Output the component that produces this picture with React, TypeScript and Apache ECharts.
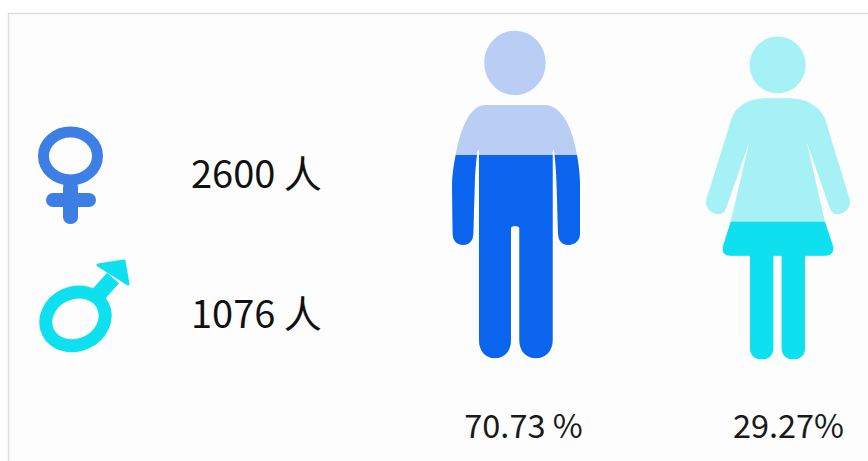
import React, { useEffect, useRef } from "react";
import * as echarts from "echarts";

const shareLabels = ["70.73 %", "29.27%"];
const shareValues = [70.73, 29.27];
const axisMaxima = [114, 68.6];
const countLabels = ["2600 人", "1076 人"];
const darkColors = ["#0a64ee", "#0fe0ef"];
const lightColors = ["#b9cdf5", "#a6f1f6"];

const manPath =
  "path://M255 62C306 62 347 105 347 158C347 212 306 255 255 255C204 255 163 212 163 158C163 105 204 62 255 62Z" +
  "M165 285L345 285C390 285 425 345 438 420C446 460 450 495 450 530L450 670C450 692 435 705 415 705C395 705 385 692 384 670L380 530C379 490 376 450 372 420L368 420L368 990C368 1025 345 1045 318 1045C290 1045 268 1025 268 990L268 655C268 650 262 648 255 648C248 648 243 650 243 655L243 990C243 1025 222 1045 195 1045C168 1045 147 1025 147 990L147 420L143 420C138 450 135 490 134 530L130 670C130 692 118 705 100 705C80 705 68 692 68 670L66 530C66 495 72 460 80 420C95 345 125 285 165 285Z";

const womanPath =
  "path://M263 80C310 80 347 118 347 165C347 212 310 250 263 250C216 250 179 212 179 165C179 118 216 80 263 80Z" +
  "M230 265L296 265C346 265 385 285 405 325L478 565C486 590 470 606 450 612C432 616 424 606 418 590L350 395L405 635L428 705C434 725 425 737 405 737L345 737L345 1015C345 1035 330 1048 310 1048C290 1048 275 1035 275 1015L275 737L250 737L250 1015C250 1035 235 1048 215 1048C195 1048 180 1035 180 1015L180 737L122 737C102 737 94 725 100 705L122 635L178 395L110 590C104 606 96 616 78 612C58 606 42 590 50 565L125 325C140 285 180 265 230 265Z";

const paths = [manPath, womanPath];
const gridBoxes = [
  { left: 452, top: 30.7, width: 128, height: 327.6 },
  { left: 706, top: 36.7, width: 144, height: 322.6 },
];
const labelPadding = [[0, 0, 0, 15], [0, 0, 0, 21]];

const textFont = '"Noto Sans CJK SC", "Noto Sans", sans-serif';

export default function App() {
  const ref = useRef<HTMLDivElement>(null);

  useEffect(() => {
    const chart = echarts.init(ref.current!, undefined, { renderer: "svg" });
    const series: any[] = [];
    shareValues.forEach((value, i) => {
      series.push({
        type: "pictorialBar",
        xAxisIndex: i,
        yAxisIndex: i,
        symbol: paths[i],
        symbolSize: ["100%", "100%"],
        symbolBoundingData: axisMaxima[i],
        symbolPosition: "start",
        barWidth: "100%",
        data: [axisMaxima[i]],
        itemStyle: { color: lightColors[i] },
        z: 2,
      });
      series.push({
        type: "pictorialBar",
        xAxisIndex: i,
        yAxisIndex: i,
        symbol: paths[i],
        symbolSize: ["100%", "100%"],
        symbolBoundingData: axisMaxima[i],
        symbolClip: true,
        symbolPosition: "start",
        barWidth: "100%",
        data: [value],
        itemStyle: { color: darkColors[i] },
        z: 3,
      });
    });

    chart.setOption({
      animation: false,
      backgroundColor: "#ffffff",
      grid: gridBoxes,
      xAxis: shareLabels.map((label, i) => ({
        type: "category",
        gridIndex: i,
        data: [label],
        axisLine: { show: false },
        axisTick: { show: false },
        axisLabel: {
          show: true,
          color: "#1a1a1a",
          fontSize: 32.5,
          fontFamily: textFont,
          margin: i === 0 ? 49 : 48,
          padding: labelPadding[i],
        },
      })),
      yAxis: axisMaxima.map((max, i) => ({
        type: "value",
        gridIndex: i,
        min: 0,
        max,
        show: false,
      })),
      series,
      graphic: [
        {
          type: "rect",
          z: -10,
          silent: true,
          shape: { x: 8.5, y: 13.5, width: 880, height: 470 },
          style: { fill: "#fdfdfd", stroke: "#dedede", lineWidth: 1.5 },
        },
        // female symbol
        {
          type: "ellipse",
          shape: { cx: 70.5, cy: 156, rx: 27, ry: 24 },
          style: { fill: "none", stroke: "#3d7fe4", lineWidth: 11 },
        },
        {
          type: "rect",
          shape: { x: 63, y: 180, width: 15, height: 44, r: 7 },
          style: { fill: "#3d7fe4" },
        },
        {
          type: "rect",
          shape: { x: 46, y: 193, width: 50, height: 14, r: 7 },
          style: { fill: "#3d7fe4" },
        },
        // male symbol
        {
          type: "ellipse",
          shape: { cx: 75.5, cy: 319, rx: 30.5, ry: 26 },
          rotation: 0.45,
          originX: 75.5,
          originY: 319,
          style: { fill: "none", stroke: "#0fe0ef", lineWidth: 13 },
        },
        {
          type: "line",
          shape: { x1: 97, y1: 296, x2: 113, y2: 278 },
          style: { stroke: "#0fe0ef", lineWidth: 16 },
        },
        {
          type: "polygon",
          shape: { points: [[98, 265], [124, 261], [128, 284]] },
          style: { fill: "#0fe0ef", stroke: "#0fe0ef", lineWidth: 3, lineJoin: "round" },
        },
        {
          type: "text",
          x: 191,
          y: 171,
          style: {
            text: countLabels[0],
            font: `38px ${textFont}`,
            fill: "#111111",
            verticalAlign: "middle",
          },
        },
        {
          type: "text",
          x: 191,
          y: 311,
          style: {
            text: countLabels[1],
            font: `38px ${textFont}`,
            fill: "#111111",
            verticalAlign: "middle",
          },
        },
      ],
    });
    return () => chart.dispose();
  }, []);

  return (
    <div
      ref={ref}
      style={{ position: "fixed", left: 0, top: 0, width: 868, height: 461 }}
    />
  );
}
